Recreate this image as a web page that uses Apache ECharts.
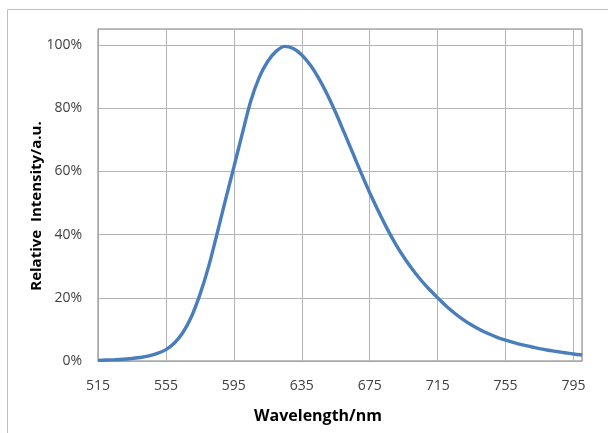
<!DOCTYPE html>
<html>
<head>
<meta charset="utf-8">
<script src="https://cdn.jsdelivr.net/npm/echarts@6/dist/echarts.min.js"></script>
<style>
html,body{margin:0;padding:0;background:#fff;}
#c{width:608px;height:433px;}
</style>
</head>
<body>
<div id="c"></div>
<script>
// Wavelength (nm) sampled along the curve
var wavelengths = [515,520,525,530,535,540,545,550,555,560,565,570,575,580,585,590,595,600,605,610,615,620,625,630,635,640,645,650,655,660,665,670,675,680,685,690,695,700,705,710,715,720,725,730,735,740,745,750,755,760,765,770,775,780,785,790,795,800];
// Relative intensity (%)
var intensity = [0.2,0.3,0.4,0.55,0.8,1.1,1.6,2.4,3.6,5.7,9.0,14.0,21.0,29.6,40.0,50.8,61.3,72.0,82.3,89.8,94.8,98.0,99.5,98.8,96.8,93.6,89.4,84.3,78.5,72.2,65.8,59.4,53.2,47.5,42.1,37.2,32.9,29.1,25.7,22.7,20.0,17.4,15.1,13.1,11.4,9.9,8.6,7.5,6.6,5.8,5.1,4.5,3.9,3.4,3.0,2.6,2.2,1.9];
// Axis settings
var xStart = 515, xEnd = 800, xStep = 40;
var yMax = 105, yStep = 20;

var seriesData = wavelengths.map(function(w, i){ return [w - xStart, intensity[i]]; });

var chart = echarts.init(document.getElementById('c'), null, {renderer:'canvas'});
var font = 'Open Sans';
chart.setOption({
  animation: false,
  backgroundColor: '#ffffff',
  grid: {left: 98, top: 29, right: 26, bottom: 72, show: true, borderColor: '#7f7f7f', borderWidth: 1},
  xAxis: {
    type: 'value', min: 0, max: xEnd - xStart, interval: xStep,
    axisLine: {show: true, lineStyle: {color: '#a6a6a6', width: 1}},
    axisTick: {show: false},
    axisLabel: {color: '#404040', fontFamily: font, fontSize: 14, margin: 18, showMaxLabel: false,
      formatter: function(v){ return String(v + xStart); }},
    splitLine: {show: true, lineStyle: {color: '#b4b4b4', width: 1}}
  },
  yAxis: {
    type: 'value', min: 0, max: yMax, interval: yStep,
    axisLine: {show: true, lineStyle: {color: '#a6a6a6', width: 1}},
    axisTick: {show: false},
    axisLabel: {color: '#404040', fontFamily: font, fontSize: 14, margin: 16, showMaxLabel: false,
      formatter: function(v){ return v + '%'; }},
    splitLine: {show: true, lineStyle: {color: '#b4b4b4', width: 1}}
  },
  series: [{
    type: 'line', data: seriesData, smooth: 0.3, showSymbol: false,
    lineStyle: {color: '#4a7ebb', width: 3.4}
  }],
  graphic: [
    {type: 'rect', left: 5, top: 7, shape: {width: 700, height: 500}, style: {fill: 'none', stroke: '#bfbfbf', lineWidth: 1}, z: -1},
    {type: 'text', x: 318, y: 416, style: {text: 'Wavelength/nm', fill: '#000', font: 'bold 16px "Open Sans"', textAlign: 'center', textVerticalAlign: 'middle'}},
    {type: 'text', x: 37, y: 206, rotation: Math.PI/2, style: {text: 'Relative  Intensity/a.u.', fill: '#000', font: 'bold 15px "Open Sans"', textAlign: 'center', textVerticalAlign: 'middle'}}
  ]
});
</script>
</body>
</html>
